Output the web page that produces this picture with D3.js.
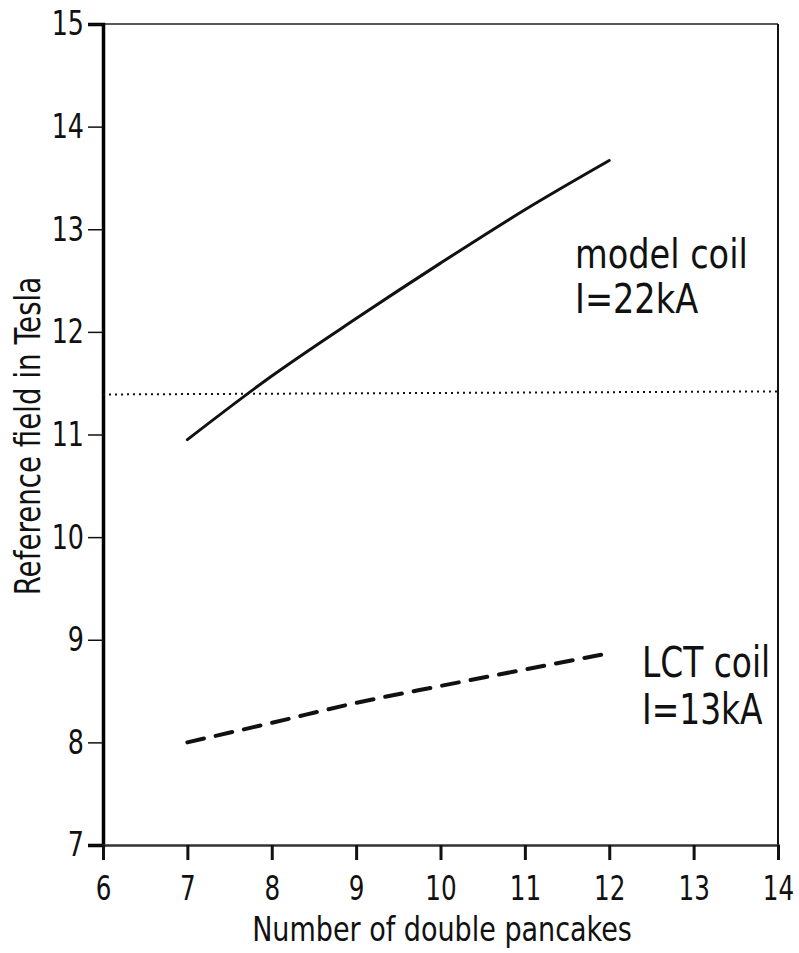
<!DOCTYPE html>
<html>
<head>
<meta charset="utf-8">
<script src="https://cdn.jsdelivr.net/npm/d3@7"></script>
<style>
  html, body { margin: 0; padding: 0; background: #fff; }
  text { font-family: "DejaVu Sans Condensed", "Liberation Sans Narrow", "Liberation Sans", sans-serif; fill: #111; }
</style>
</head>
<body>
<svg id="chart" width="799" height="953"></svg>
<script>
// ---- data ----
const pancakes = [7, 8, 9, 10, 11, 12];
const modelCoil = [10.95, 11.57, 12.13, 12.67, 13.19, 13.67];
const lctCoil = [8.0, 8.19, 8.385, 8.55, 8.71, 8.87];
const refLineX = [6, 14];
const refLineY = [11.39, 11.42];
const xTicks = [6, 7, 8, 9, 10, 11, 12, 13, 14];
const yTicks = [7, 8, 9, 10, 11, 12, 13, 14, 15];
const xTitle = "Number of double pancakes";
const yTitle = "Reference field in Tesla";
const modelLabel = ["model coil", "I=22kA"];
const lctLabel = ["LCT coil", "I=13kA"];

// ---- layout ----
const svg = d3.select("#chart");
const mLeft = 103, mRight = 778, mTop = 24, mBottom = 845;
const x = d3.scaleLinear().domain([6, 14]).range([mLeft, mRight]);
const y = d3.scaleLinear().domain([7, 15]).range([mBottom, mTop]);
const tickScale = 0.83;

// frame: top and right thin
svg.append("line").attr("x1", mLeft).attr("x2", mRight).attr("y1", mTop).attr("y2", mTop)
  .attr("stroke", "#222").attr("stroke-width", 1.5);
svg.append("line").attr("x1", mRight).attr("x2", mRight).attr("y1", mTop).attr("y2", mBottom)
  .attr("stroke", "#111").attr("stroke-width", 2);

// y axis
const yAxis = d3.axisLeft(y).tickValues(yTicks).tickSize(15).tickPadding(4).tickFormat(d3.format("d"));
const gy = svg.append("g").attr("transform", `translate(${mLeft},0)`).call(yAxis);
gy.select(".domain").attr("stroke", "#000").attr("stroke-width", 3.5);
gy.selectAll(".tick line").attr("stroke", "#111").attr("stroke-width", 1.5);
gy.selectAll(".tick text").attr("font-size", 34).attr("dy", "0.32em").attr("fill", "#111")
  .attr("x", -19 / tickScale).attr("transform", `scale(${tickScale},1)`);

// x axis
const xAxis = d3.axisBottom(x).tickValues(xTicks).tickSize(15).tickPadding(17).tickFormat(d3.format("d"));
const gx = svg.append("g").attr("transform", `translate(0,${mBottom})`).call(xAxis);
gx.select(".domain").attr("stroke", "#333").attr("stroke-width", 2.5);
gx.selectAll(".tick line").attr("stroke", "#111").attr("stroke-width", 3);
gx.selectAll(".tick text").attr("font-size", 33).attr("fill", "#111")
  .attr("transform", `scale(${tickScale},1)`);

// helper for horizontally condensed text
function label(px, py, rot, sx, size, lines, lineGap, anchor) {
  const g = svg.append("g").attr("transform", `translate(${px},${py}) rotate(${rot})`);
  const t = g.append("text").attr("transform", `scale(${sx},1)`)
    .attr("font-size", size).attr("text-anchor", anchor || "start");
  lines.forEach((s, i) => t.append("tspan").attr("x", 0).attr("y", i * lineGap).text(s));
  return t;
}

// titles
label(442, 941, 0, 0.91, 33, [xTitle], 0, "middle");
label(40, 436, -90, 0.88, 35, [yTitle], 0, "middle");

// reference dotted line
const refData = refLineX.map((v, i) => [v, refLineY[i]]);
svg.append("path").datum(refData)
  .attr("d", d3.line().x(d => x(d[0])).y(d => y(d[1])))
  .attr("fill", "none").attr("stroke", "#111").attr("stroke-width", 2)
  .attr("stroke-dasharray", "2,4");

// curves
const line = d3.line().x(d => x(d[0])).y(d => y(d[1])).curve(d3.curveMonotoneX);
svg.append("path").datum(pancakes.map((p, i) => [p, modelCoil[i]]))
  .attr("d", line).attr("fill", "none").attr("stroke", "#111")
  .attr("stroke-width", 3).attr("stroke-linecap", "round");
svg.append("path").datum(pancakes.map((p, i) => [p, lctCoil[i]]))
  .attr("d", line).attr("fill", "none").attr("stroke", "#111")
  .attr("stroke-width", 4).attr("stroke-linecap", "round")
  .attr("stroke-dasharray", "17,12");

// labels
label(575, 268, 0, 0.91, 41, modelLabel, 45);
label(642, 677, 0, 0.87, 42, lctLabel, 47);
</script>
</body>
</html>
